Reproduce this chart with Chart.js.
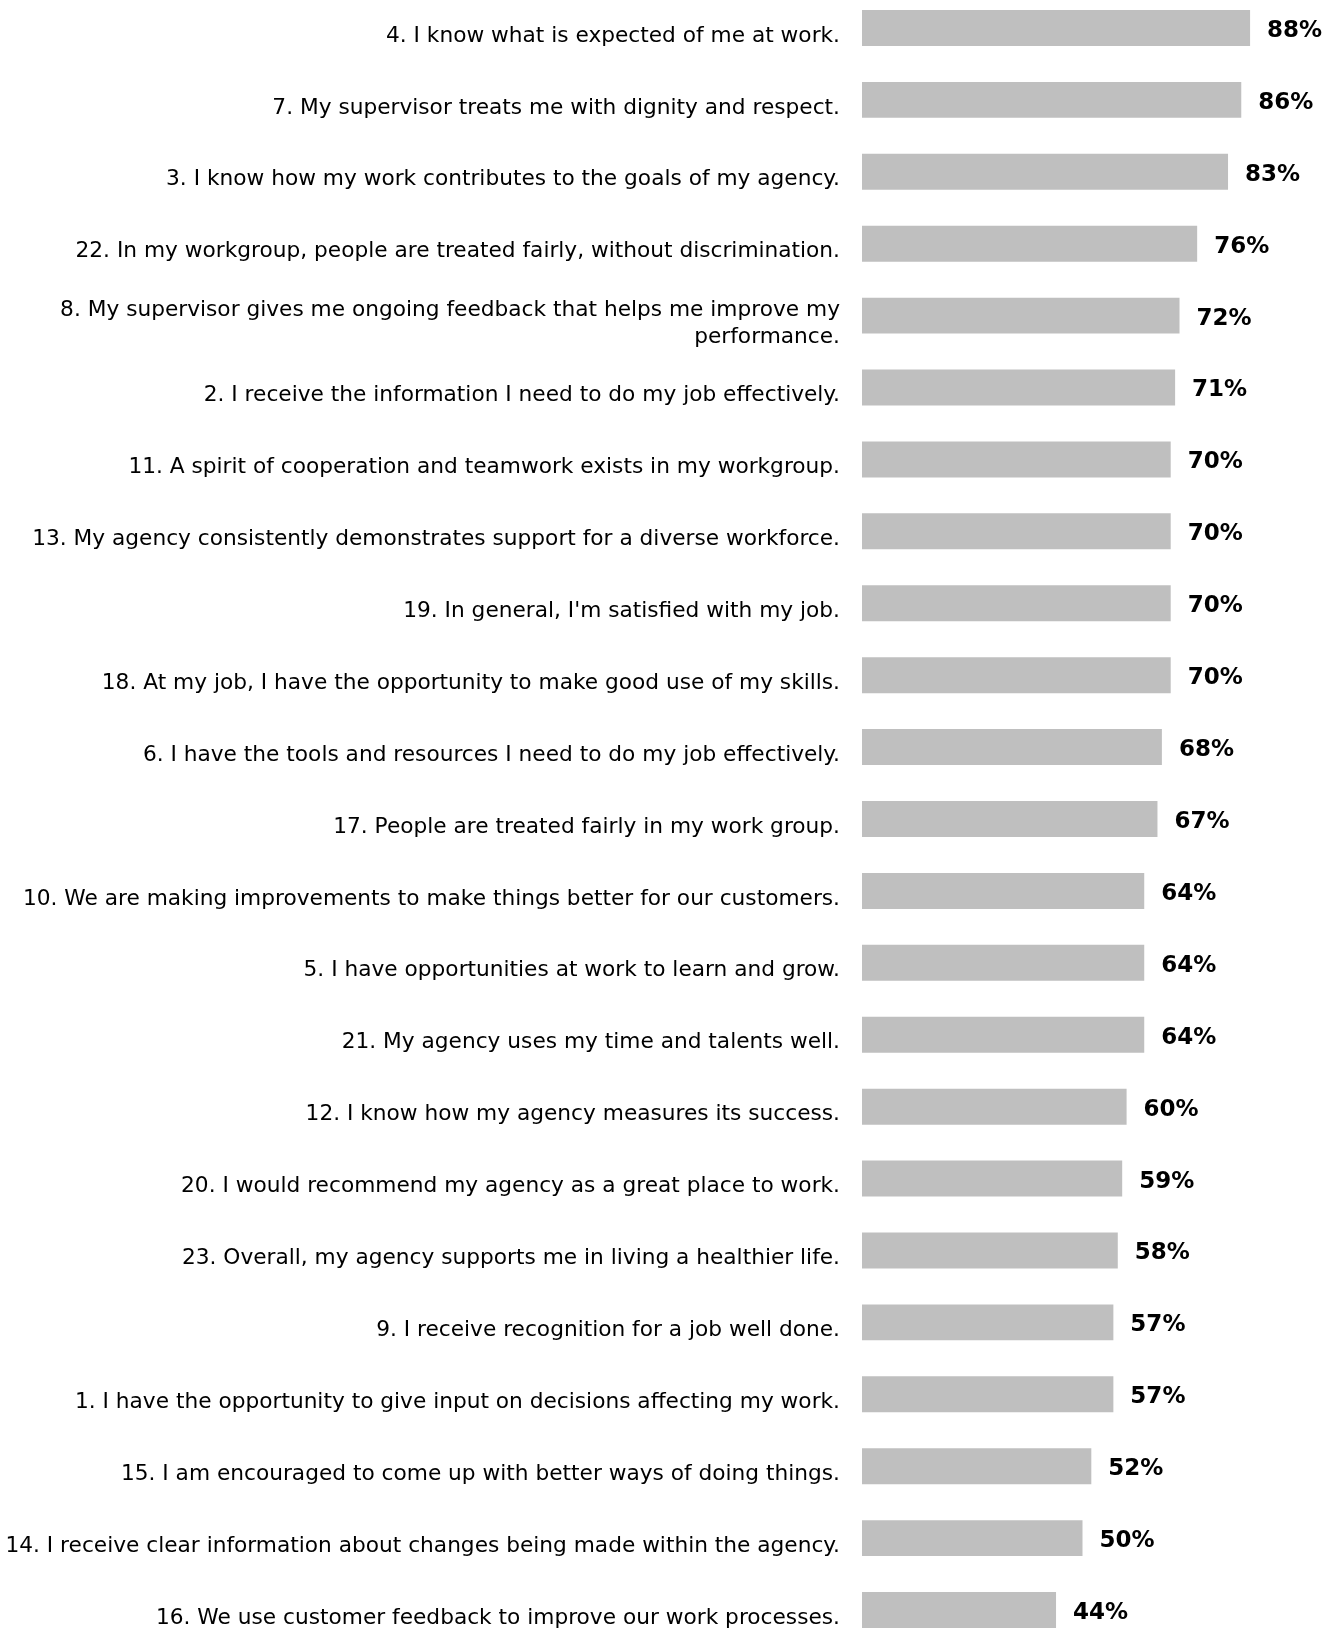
<!DOCTYPE html>
<html>
<head>
<meta charset="utf-8">
<script src="https://cdn.jsdelivr.net/npm/chart.js@4.4.1/dist/chart.umd.min.js"></script>
<style>
  html, body { margin: 0; padding: 0; background: #fff; overflow: hidden; }
  #wrap { position: absolute; left: 0; top: -8px; width: 1325px; height: 1654px; }
</style>
</head>
<body>
<div id="wrap"><canvas id="chart" width="1325" height="1654"></canvas></div>
<script>
// survey statements, highest agreement first
const statements = [
  "4. I know what is expected of me at work.",
  "7. My supervisor treats me with dignity and respect.",
  "3. I know how my work contributes to the goals of my agency.",
  "22. In my workgroup, people are treated fairly, without discrimination.",
  ["8. My supervisor gives me ongoing feedback that helps me improve my", "performance."],
  "2. I receive the information I need to do my job effectively.",
  "11. A spirit of cooperation and teamwork exists in my workgroup.",
  "13. My agency consistently demonstrates support for a diverse workforce.",
  "19. In general, I'm satisfied with my job.",
  "18. At my job, I have the opportunity to make good use of my skills.",
  "6. I have the tools and resources I need to do my job effectively.",
  "17. People are treated fairly in my work group.",
  "10. We are making improvements to make things better for our customers.",
  "5. I have opportunities at work to learn and grow.",
  "21. My agency uses my time and talents well.",
  "12. I know how my agency measures its success.",
  "20. I would recommend my agency as a great place to work.",
  "23. Overall, my agency supports me in living a healthier life.",
  "9. I receive recognition for a job well done.",
  "1. I have the opportunity to give input on decisions affecting my work.",
  "15. I am encouraged to come up with better ways of doing things.",
  "14. I receive clear information about changes being made within the agency.",
  "16. We use customer feedback to improve our work processes."
];

// percent agreeing
const agreePct = [88, 86, 83, 76, 72, 71, 70, 70, 70, 70, 68, 67, 64, 64, 64, 60, 59, 58, 57, 57, 52, 50, 44];

// percent labels at the end of each bar
const valueLabels = {
  id: "valueLabels",
  afterDatasetsDraw(chart) {
    const ctx = chart.ctx;
    const meta = chart.getDatasetMeta(0);
    ctx.save();
    ctx.font = "bold 23px 'DejaVu Sans', Verdana, sans-serif";
    ctx.fillStyle = "#000";
    ctx.textAlign = "left";
    ctx.textBaseline = "middle";
    meta.data.forEach((bar, i) => {
      ctx.fillText(agreePct[i] + "%", bar.x + 17, bar.y + 3);
    });
    ctx.restore();
  }
};

// statements sit a little below the bar centre
const nudgeLabels = {
  id: "nudgeLabels",
  beforeDraw(chart) {
    chart.scales.y.getLabelItems().forEach(item => {
      if (!item._nudged) {
        item.options.translation[1] += 8;
        item._nudged = true;
      }
    });
  }
};

new Chart(document.getElementById("chart"), {
  type: "bar",
  data: {
    labels: statements,
    datasets: [{
      data: agreePct,
      backgroundColor: "#bfbfbf",
      borderWidth: 0,
      categoryPercentage: 1,
      barPercentage: 0.5
    }]
  },
  options: {
    indexAxis: "y",
    responsive: false,
    animation: false,
    events: [],
    layout: { padding: { left: 0, right: 22, top: 0, bottom: 0 } },
    plugins: {
      legend: { display: false },
      tooltip: { enabled: false }
    },
    scales: {
      x: {
        display: false,
        min: 0,
        max: 100
      },
      y: {
        // fixed label column; no extra room above/below the first and last rows
        afterFit: (scale) => {
          scale.width = 862;
          scale.paddingTop = 0;
          scale.paddingBottom = 0;
        },
        grid: { display: false, drawTicks: false },
        border: { display: false },
        ticks: {
          padding: 22,
          color: "#000",
          font: { family: "'DejaVu Sans', Verdana, sans-serif", size: 21.7, lineHeight: 1.25 }
        }
      }
    }
  },
  plugins: [valueLabels, nudgeLabels]
});
</script>
</body>
</html>
